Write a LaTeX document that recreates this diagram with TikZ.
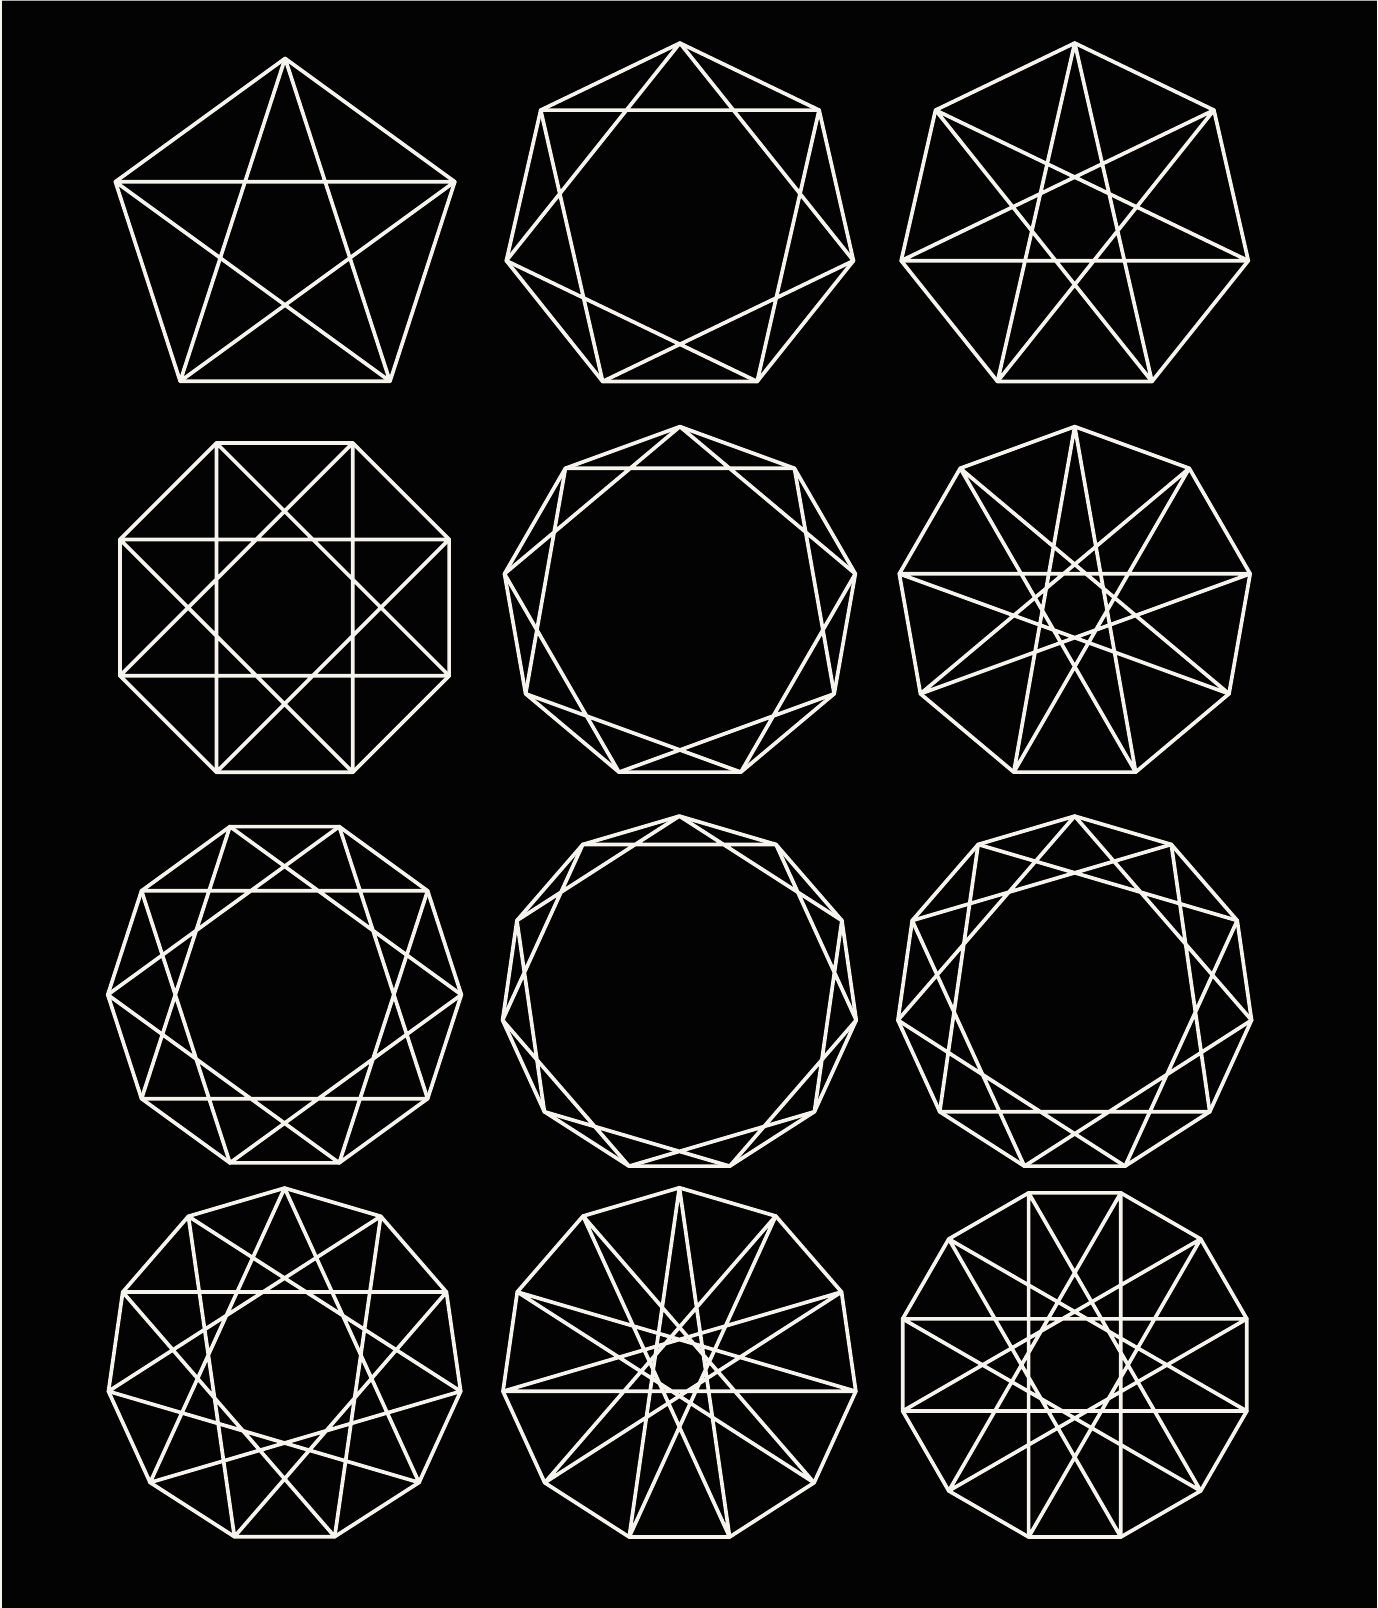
\documentclass[tikz,border=0pt]{standalone}
\definecolor{linecol}{RGB}{246,243,236}
\definecolor{bgcol}{RGB}{3,3,3}
\tikzset{starline/.style={draw=linecol, line width=0.036cm, line join=round, line cap=round}}
\newcommand{\drawstarpoly}[6]{%
  % #1,#2 centre; #3 n; #4 step; #5 radius; #6 start angle
  \begin{scope}[shift={(#1,#2)}]
    \draw[starline] (#6:#5) \foreach \i in {1,...,#3}{ -- ({#6+\i*(360/#3)}:#5)} -- cycle;
    \draw[starline] (#6:#5) \foreach \i in {1,...,#3}{ -- ({#6+mod(\i*#4,#3)*(360/#3)}:#5)} -- cycle;
  \end{scope}}
\begin{document}
\begin{tikzpicture}[x=0.01cm,y=0.01cm]
\fill[bgcol] (0,0) rectangle (1343,1568);
\useasboundingbox (0,0) rectangle (1343,1568);
\draw[linecol!70!black, line width=0.012cm] (0,1567.5) -- (1343,1567.5);
\draw[linecol, line width=0.02cm] (1,0) -- (1,1568);
% row 1
\drawstarpoly{278}{1337}{5}{2}{174}{90}
\drawstarpoly{663}{1352.4}{7}{2}{173.6}{90}
\drawstarpoly{1048}{1352.4}{7}{3}{173.6}{90}
% row 2
\drawstarpoly{277.5}{975.5}{8}{3}{173.7}{22.5}
\drawstarpoly{663}{978.3}{9}{2}{173.7}{90}
\drawstarpoly{1048}{978.3}{9}{4}{173.7}{90}
% row 3
\drawstarpoly{277.5}{598}{10}{3}{172.4}{0}
\drawstarpoly{662.5}{598}{11}{2}{174.2}{90}
\drawstarpoly{1048}{598}{11}{3}{174.2}{90}
% row 4
\drawstarpoly{277.5}{236}{11}{4}{173.5}{90}
\drawstarpoly{662.5}{236}{11}{5}{173.8}{90}
\drawstarpoly{1048}{237}{12}{5}{173.7}{15}
\end{tikzpicture}
\end{document}
